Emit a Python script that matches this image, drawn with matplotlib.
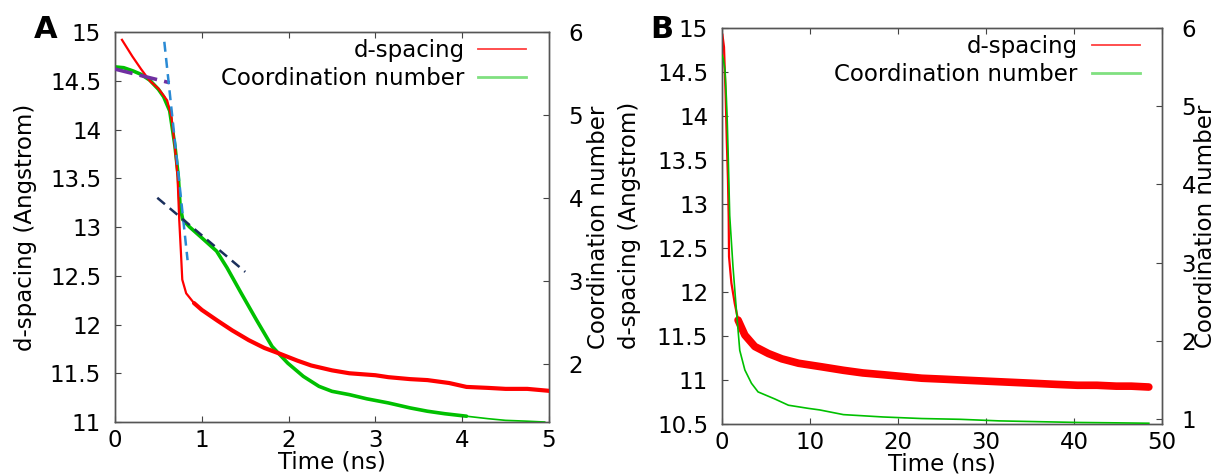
import matplotlib.pyplot as plt
from matplotlib.lines import Line2D

# Panel A: first 5 ns
time_a = [0.08, 0.2, 0.3, 0.4, 0.5, 0.6, 0.65, 0.69, 0.72, 0.74, 0.76, 0.775,
          0.82, 0.91, 1.0, 1.18, 1.35, 1.54, 1.72, 1.9, 2.1, 2.26, 2.5, 2.7,
          3.0, 3.15, 3.4, 3.6, 3.85, 4.05, 4.3, 4.5, 4.75, 5.0]
dspace_a = [14.92, 14.75, 14.62, 14.50, 14.42, 14.30, 14.13, 13.82, 13.52, 13.07,
            12.73, 12.46, 12.32, 12.22, 12.15, 12.04, 11.94, 11.84, 11.76, 11.70,
            11.63, 11.58, 11.53, 11.50, 11.48, 11.46, 11.44, 11.43, 11.40, 11.36,
            11.35, 11.34, 11.34, 11.32]

time_cn_a = [0.0, 0.1, 0.21, 0.3, 0.4, 0.5, 0.56, 0.63, 0.69, 0.73, 0.75, 0.78,
             0.86, 1.0, 1.17, 1.29, 1.45, 1.63, 1.81, 1.99, 2.17, 2.35, 2.5, 2.7,
             2.9, 3.15, 3.4, 3.6, 3.8, 4.05, 4.3, 4.5, 4.75, 4.95]
coord_a = [5.58, 5.57, 5.53, 5.49, 5.42, 5.31, 5.22, 5.05, 4.63, 4.25, 3.90, 3.74,
           3.65, 3.52, 3.36, 3.16, 2.86, 2.53, 2.21, 2.01, 1.85, 1.73, 1.67, 1.63,
           1.58, 1.53, 1.47, 1.43, 1.40, 1.37, 1.34, 1.32, 1.31, 1.30]

# guide lines drawn over panel A (time, d-spacing)
fit1_t, fit1_d = [0.0, 0.63], [14.62, 14.48]
fit2_t, fit2_d = [0.568, 0.836], [14.90, 12.66]
fit3_t, fit3_d = [0.487, 1.50], [13.30, 12.54]

# Panel B: full 50 ns run
time_b = [0.05, 0.23, 0.42, 0.55, 0.68, 0.76, 0.8, 1.07, 1.45, 1.83, 2.6, 3.73,
          5.28, 6.8, 8.7, 11.3, 13.8, 16, 18.3, 20.5, 22.7, 25, 27.1, 29.3, 31.5,
          33.7, 35.9, 38, 40.4, 42.6, 44.8, 46.5, 48.5]
dspace_b = [14.92, 14.78, 14.22, 13.70, 13.27, 12.85, 12.40, 12.10, 11.87, 11.68,
            11.51, 11.38, 11.30, 11.24, 11.19, 11.15, 11.11, 11.08, 11.06, 11.04,
            11.02, 11.01, 11.00, 10.99, 10.98, 10.97, 10.96, 10.95, 10.94, 10.94,
            10.93, 10.93, 10.92]

time_cn_b = [0.0, 0.15, 0.35, 0.5, 0.6, 0.7, 0.88, 1.25, 1.64, 2.02, 2.6, 3.35,
             4.1, 6.0, 7.55, 9.8, 11.1, 13.8, 18.3, 22.7, 27.1, 31.5, 35.9, 40.4,
             44.8, 48.5]
coord_b = [5.65, 5.60, 5.45, 5.10, 4.80, 4.40, 3.60, 2.95, 2.39, 1.88, 1.63, 1.46,
           1.35, 1.26, 1.18, 1.14, 1.12, 1.06, 1.03, 1.01, 1.00, 0.98, 0.97, 0.96,
           0.955, 0.95]

RED = '#ff0000'
GREEN = '#00c000'
FS = 16.5

plt.rcParams['font.family'] = 'DejaVu Sans'
fig = plt.figure(figsize=(12.21, 4.76), dpi=100)
ax_a = fig.add_axes([0.0942, 0.1134, 0.3554, 0.8193])
ax_b = fig.add_axes([0.5913, 0.1092, 0.3604, 0.8326])


def style_axes(ax, ax2):
    for a in (ax, ax2):
        for s in a.spines.values():
            s.set_color('#555555')
            s.set_linewidth(1.0)
    ax.tick_params(axis='x', direction='in', top=True, length=4, width=0.8,
                   labelsize=FS, pad=5, color='#444444')
    ax.tick_params(axis='y', direction='in', right=False, length=4, width=0.8,
                   labelsize=FS, pad=10, color='#444444')
    ax2.tick_params(axis='y', direction='in', length=4, width=0.8,
                    labelsize=FS, pad=14, color='#444444')


def add_legend(ax, anchor):
    handles = [Line2D([], [], color='#ff4040', lw=1.3),
               Line2D([], [], color='#80e080', lw=2.0)]
    ax.legend(handles, ['d-spacing', 'Coordination number'], loc='upper right',
              bbox_to_anchor=anchor, frameon=False, markerfirst=False,
              fontsize=FS, handlelength=2.1, handletextpad=0.6,
              labelspacing=0.2, borderaxespad=0)


# --- panel A ---
ax2_a = ax_a.twinx()
# the noisy tail reads as a wider band than the sharp drop
ax_a.plot(time_a, dspace_a, color=RED, lw=1.6, zorder=3)
ax_a.plot(time_a[13:], dspace_a[13:], color=RED, lw=3.0, zorder=3,
          solid_capstyle='round')
ax2_a.plot(time_cn_a[:30], coord_a[:30], color=GREEN, lw=2.6, zorder=3,
           solid_capstyle='round')
ax2_a.plot(time_cn_a[29:], coord_a[29:], color=GREEN, lw=1.2, zorder=3)
ax_a.plot(fit1_t, fit1_d, color='#7030a0', lw=2.6, ls=(0, (5, 2)), zorder=4)
ax_a.plot(fit2_t, fit2_d, color='#2a8ad4', lw=1.8, ls=(0, (4, 2.5)), zorder=4)
ax_a.plot(fit3_t, fit3_d, color='#1a2f5c', lw=1.8, ls=(0, (4, 2.5)), zorder=4)
ax_a.set_xlim(0, 5)
ax_a.set_ylim(11, 15)
ax2_a.set_ylim(1.3, 6)
ax_a.set_xticks([0, 1, 2, 3, 4, 5])
ax_a.set_yticks([11, 11.5, 12, 12.5, 13, 13.5, 14, 14.5, 15])
ax_a.set_yticklabels(['11', '11.5', '12', '12.5', '13', '13.5', '14', '14.5', '15'])
ax2_a.set_yticks([2, 3, 4, 5, 6])
ax_a.set_xlabel('Time (ns)', fontsize=FS)
ax_a.set_ylabel('d-spacing (Angstrom)', fontsize=FS)
ax2_a.set_ylabel('Coordination number', fontsize=FS)
ax_a.xaxis.set_label_coords(0.5, -0.074)
ax_a.yaxis.set_label_coords(-0.18, 0.5)
ax2_a.yaxis.set_label_coords(1.088, 0.5)
style_axes(ax_a, ax2_a)
ax_a.set_zorder(ax2_a.get_zorder() + 1)
ax_a.patch.set_visible(False)
add_legend(ax_a, (0.969, 1.005))

# --- panel B ---
ax2_b = ax_b.twinx()
ax_b.plot(time_b, dspace_b, color=RED, lw=1.6, zorder=3)
ax_b.plot(time_b[9:], dspace_b[9:], color=RED, lw=5.5, zorder=3,
          solid_capstyle='round')
ax2_b.plot(time_cn_b, coord_b, color=GREEN, lw=1.2, zorder=3)
ax_b.set_xlim(0, 50)
ax_b.set_ylim(10.5, 15)
ax2_b.set_ylim(0.94, 6)
ax_b.set_xticks([0, 10, 20, 30, 40, 50])
ax_b.set_yticks([10.5, 11, 11.5, 12, 12.5, 13, 13.5, 14, 14.5, 15])
ax_b.set_yticklabels(['10.5', '11', '11.5', '12', '12.5', '13', '13.5', '14',
                      '14.5', '15'])
ax2_b.set_yticks([1, 2, 3, 4, 5, 6])
ax_b.set_xlabel('Time (ns)', fontsize=FS)
ax_b.set_ylabel('d-spacing (Angstrom)', fontsize=FS)
ax2_b.set_ylabel('Coordination number', fontsize=FS)
ax_b.xaxis.set_label_coords(0.5, -0.071)
ax_b.yaxis.set_label_coords(-0.184, 0.5)
ax2_b.yaxis.set_label_coords(1.073, 0.5)
style_axes(ax_b, ax2_b)
add_legend(ax_b, (0.97, 1.004))

fig.text(46 / 1221, 1 - 29 / 476, 'A', fontsize=22, fontweight='bold',
         ha='center', va='center')
fig.text(662 / 1221, 1 - 29 / 476, 'B', fontsize=22, fontweight='bold',
         ha='center', va='center')

fig.savefig('out.png', dpi=100)
